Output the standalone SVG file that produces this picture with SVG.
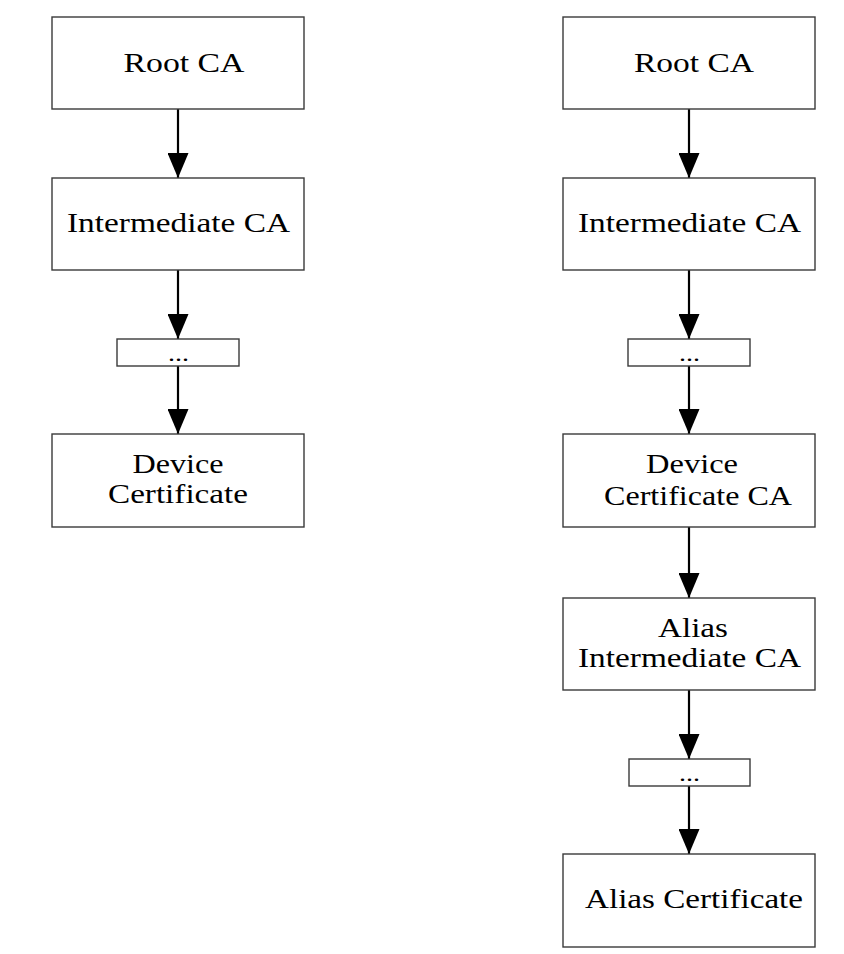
<svg xmlns="http://www.w3.org/2000/svg" width="844" height="954" viewBox="0 0 844 954">
<style>
.box{fill:#fff;stroke:#3a3a3a;stroke-width:1.4}
.lbl{font-family:"Liberation Serif","Times New Roman",serif;font-size:27.5px;fill:#000;text-anchor:middle}
.dots{font-family:"Liberation Serif","Times New Roman",serif;font-size:20px;fill:#000;text-anchor:middle}
.conn{stroke:#000;stroke-width:2.2;fill:none;marker-end:url(#ah)}
</style>
<defs>
<marker id="ah" viewBox="0 0 25 21" markerWidth="25" markerHeight="21" refX="25" refY="10.5" orient="auto" markerUnits="userSpaceOnUse">
<path d="M0,0 L25,10.5 L0,21 z" fill="#000"/>
</marker>
</defs>
<rect width="844" height="954" fill="#fff"/>
<g id="connectors">
<line class="conn" x1="178" y1="109" x2="178" y2="178"/>
<line class="conn" x1="178" y1="270" x2="178" y2="339"/>
<line class="conn" x1="178" y1="366" x2="178" y2="434"/>
<line class="conn" x1="689" y1="109" x2="689" y2="178"/>
<line class="conn" x1="689" y1="270" x2="689" y2="339"/>
<line class="conn" x1="689" y1="366" x2="689" y2="434"/>
<line class="conn" x1="689" y1="527" x2="689" y2="598"/>
<line class="conn" x1="689" y1="690" x2="689" y2="759"/>
<line class="conn" x1="689" y1="786" x2="689" y2="854"/>
</g>
<g id="left-root">
<rect class="box" x="52" y="17" width="252" height="92"/>
<text class="lbl" x="184" y="72" textLength="121" lengthAdjust="spacingAndGlyphs">Root CA</text>
</g>
<g id="left-intermediate">
<rect class="box" x="52" y="178" width="252" height="92"/>
<text class="lbl" x="178.5" y="232" textLength="223" lengthAdjust="spacingAndGlyphs">Intermediate CA</text>
</g>
<g id="left-dots">
<rect class="box" x="117" y="339" width="122" height="27"/>
<text class="dots" x="178.5" y="361" textLength="21" lengthAdjust="spacingAndGlyphs">...</text>
</g>
<g id="left-device">
<rect class="box" x="52" y="434" width="252" height="93"/>
<text class="lbl" x="178" y="473" textLength="91" lengthAdjust="spacingAndGlyphs">Device</text>
<text class="lbl" x="178" y="503" textLength="140" lengthAdjust="spacingAndGlyphs">Certificate</text>
</g>
<g id="right-root">
<rect class="box" x="563" y="17" width="252" height="92"/>
<text class="lbl" x="694" y="72" textLength="120" lengthAdjust="spacingAndGlyphs">Root CA</text>
</g>
<g id="right-intermediate">
<rect class="box" x="563" y="178" width="252" height="92"/>
<text class="lbl" x="689.5" y="232" textLength="223" lengthAdjust="spacingAndGlyphs">Intermediate CA</text>
</g>
<g id="right-dots-1">
<rect class="box" x="628" y="339" width="122" height="27"/>
<text class="dots" x="689.5" y="361" textLength="21" lengthAdjust="spacingAndGlyphs">...</text>
</g>
<g id="right-device-ca">
<rect class="box" x="563" y="434" width="252" height="93"/>
<text class="lbl" x="692" y="473" textLength="92" lengthAdjust="spacingAndGlyphs">Device</text>
<text class="lbl" x="698" y="505" textLength="188" lengthAdjust="spacingAndGlyphs">Certificate CA</text>
</g>
<g id="right-alias-intermediate">
<rect class="box" x="563" y="598" width="252" height="92"/>
<text class="lbl" x="693" y="637" textLength="70" lengthAdjust="spacingAndGlyphs">Alias</text>
<text class="lbl" x="689.5" y="667" textLength="223" lengthAdjust="spacingAndGlyphs">Intermediate CA</text>
</g>
<g id="right-dots-2">
<rect class="box" x="629" y="759" width="121" height="27"/>
<text class="dots" x="689.5" y="781" textLength="21" lengthAdjust="spacingAndGlyphs">...</text>
</g>
<g id="right-alias-cert">
<rect class="box" x="563" y="854" width="252" height="93"/>
<text class="lbl" x="694" y="908" textLength="218" lengthAdjust="spacingAndGlyphs">Alias Certificate</text>
</g>
</svg>
